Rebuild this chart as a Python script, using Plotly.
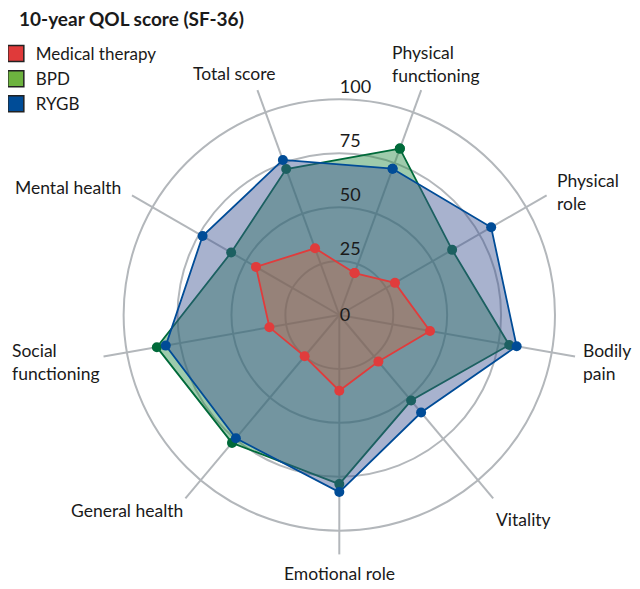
import plotly.graph_objects as go

categories = ["Physical functioning", "Physical role", "Bodily pain", "Vitality",
              "Emotional role", "General health", "Social functioning", "Mental health",
              "Total score"]
axis_labels = ["Physical<br>functioning", "Physical<br>role", "Bodily<br>pain", "Vitality",
               "Emotional role", "General health", "Social<br>functioning", "Mental health",
               "Total score"]
medical = [20.7, 29.8, 42.7, 28.2, 35.1, 25.0, 32.9, 44.6, 32.9]
bpd = [82.1, 60.4, 80.0, 51.8, 78.4, 77.4, 85.9, 57.9, 72.0]
rygb = [72.2, 81.3, 83.5, 59.0, 82.1, 74.6, 81.7, 73.2, 76.5]
radial_ticks = [0, 25, 50, 75, 100]

W, H = 640, 589
OFF = 8  # page body margin in the browser
# category label placement in page pixels (layout only): x, y, xanchor
label_layout = [(390, 64, "left"), (555, 192, "left"), (581, 362, "left"),
                (523, 519, "center"), (339, 573, "center"), (127, 510, "center"),
                (10, 362, "left"), (68, 187, "center"), (234, 74, "center")]

series = [
    ("BPD", bpd, "#006a3a", "rgba(40,140,70,0.45)", "#6db33f"),
    ("RYGB", rygb, "#004c97", "rgba(62,84,146,0.45)", "#004c97"),
    ("Medical therapy", medical, "#e03c3c", "rgba(215,95,50,0.35)", "#e03a3a"),
]

fig = go.Figure()
for name, vals, lc, fc, _ in series:
    fig.add_trace(go.Scatterpolar(
        r=vals + vals[:1], theta=categories + categories[:1],
        mode="lines+markers", fill="toself", fillcolor=fc,
        line=dict(color=lc, width=1.8), marker=dict(color=lc, size=10),
        name=name, showlegend=False, hoverinfo="skip"))

for name in ["Medical therapy", "BPD", "RYGB"]:
    lc = [s for s in series if s[0] == name][0][4]
    fig.add_trace(go.Scatterpolar(
        r=[None], theta=[categories[0]], mode="markers", name=name,
        marker=dict(symbol="square", size=16, color=lc,
                    line=dict(color="#222222", width=1.5)),
        showlegend=True))


def px2paper(px, py):
    return (px - OFF) / W, 1 - (py - OFF) / H


tx, ty = px2paper(17, 18)
annotations = [dict(text="<b>10-year QOL score (SF-36)</b>", x=tx, y=ty,
                    xref="paper", yref="paper", xanchor="left", yanchor="middle",
                    showarrow=False, font=dict(size=19, color="#1a1a1a"))]
for txt, (px, py, xa) in zip(axis_labels, label_layout):
    ax, ay = px2paper(px, py)
    annotations.append(dict(text=txt, x=ax, y=ay, xref="paper", yref="paper",
                            xanchor=xa, yanchor="middle",
                            align="left" if xa == "left" else "center",
                            showarrow=False, font=dict(size=17.5, color="#1a1a1a")))

grid = "#b3b7bb"
# polar centre at page (339.3, 315), radius 239.4 px for r = 111
cx, cy, R = 339.3 - OFF, 315 - OFF, 239.4
fig.update_layout(
    width=W, height=H,
    margin=dict(l=0, r=0, t=0, b=0, autoexpand=False),
    paper_bgcolor="white", plot_bgcolor="white",
    font=dict(family="Lato, 'Noto Sans', sans-serif", size=17, color="#1a1a1a"),
    annotations=annotations,
    legend=dict(x=-0.019, y=1 - 28 / 589, xanchor="left", yanchor="top",
                font=dict(size=17), itemsizing="trace", itemwidth=30, tracegroupgap=0,
                bgcolor="rgba(0,0,0,0)"),
    polar=dict(
        domain=dict(x=[(cx - R) / W, (cx + R) / W], y=[1 - (cy + R) / H, 1 - (cy - R) / H]),
        bgcolor="white",
        angularaxis=dict(rotation=70, direction="clockwise", showline=False,
                         gridcolor=grid, gridwidth=1.5, ticks="",
                         showticklabels=False, categoryorder="array",
                         categoryarray=categories),
        radialaxis=dict(range=[0, 111], tickvals=radial_ticks,
                        ticktext=[str(radial_ticks[0])] + [f"{v}<br>&nbsp;" for v in radial_ticks[1:]],
                        angle=90,
                        showline=False, ticks="", gridcolor=grid, gridwidth=1.5,
                        tickfont=dict(size=18), side="clockwise", tickangle=90),
    ),
)

fig.write_html("out.html")
